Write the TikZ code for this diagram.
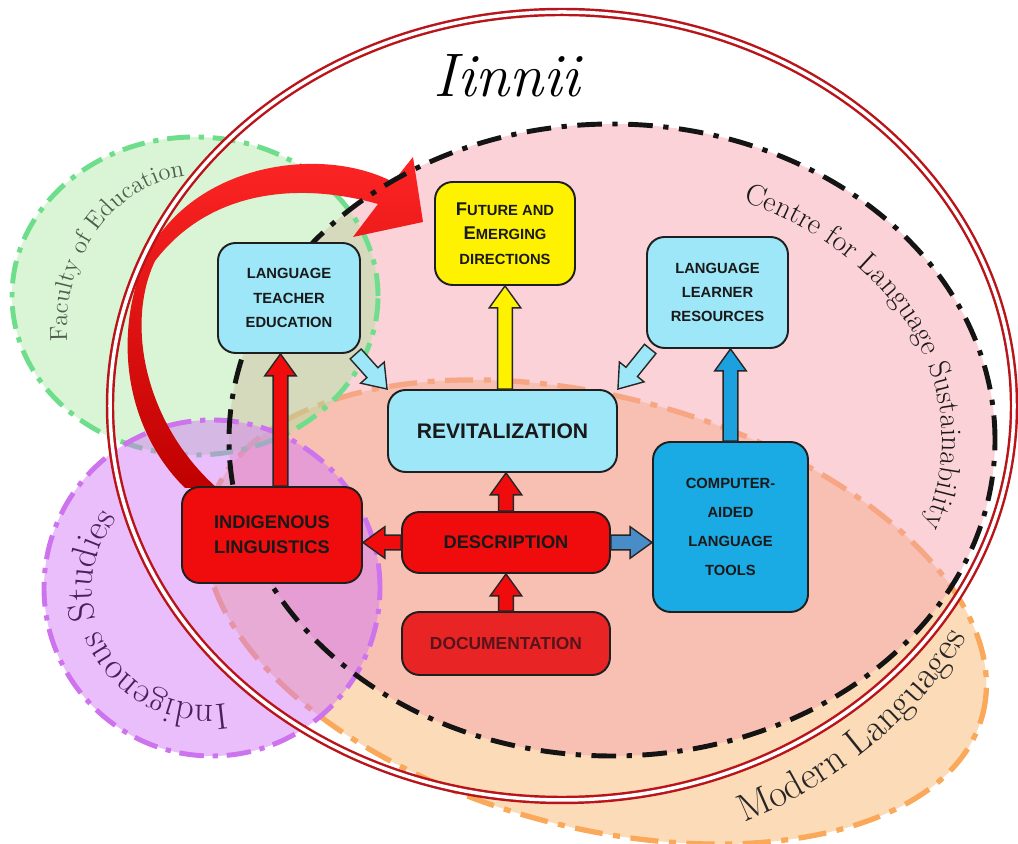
\documentclass[tikz,border=0pt]{standalone}
\usepackage{fontspec}
\usepackage{tikz}
\usetikzlibrary{calc,decorations.text}
\newfontfamily\boxfont{Liberation Sans}

\definecolor{ltblue}{RGB}{158,231,249}
\definecolor{boxyellow}{RGB}{255,242,0}
\definecolor{boxred}{RGB}{240,12,12}
\definecolor{docred}{RGB}{232,36,36}
\definecolor{doctext}{RGB}{88,20,28}
\definecolor{calblue}{RGB}{26,170,228}
\definecolor{steelarrow}{RGB}{72,140,200}
\definecolor{upblue}{RGB}{28,160,222}
\definecolor{ringred}{RGB}{185,20,26}
\definecolor{edgreen}{RGB}{160,230,150}
\definecolor{edgreenline}{RGB}{110,222,140}
\definecolor{fedtext}{RGB}{78,94,78}
\definecolor{indpurple}{RGB}{211,125,245}
\definecolor{indpurpleline}{RGB}{205,115,238}
\definecolor{indtext}{RGB}{72,32,92}
\definecolor{modorange}{RGB}{249,189,125}
\definecolor{modorangeline}{RGB}{250,168,90}
\definecolor{clspink}{RGB}{245,165,175}
\definecolor{arrowred}{RGB}{255,38,38}
\definecolor{arrowdark}{RGB}{192,0,0}

% 粗箭头: 样式, 起点, 终点
\newcommand\blockarr[3]{%
  \coordinate (ba-a) at (#2);
  \coordinate (ba-b) at (#3);
  \coordinate (ba-h) at ($(ba-b)!12.5pt!(ba-a)$);
  \draw[fatarr,#1] ($(ba-a)!4.2pt!90:(ba-b)$) -- ($(ba-h)!4.2pt!-90:(ba-a)$)
    -- ($(ba-h)!9pt!-90:(ba-a)$) -- (ba-b) -- ($(ba-h)!9pt!90:(ba-a)$)
    -- ($(ba-h)!4.2pt!90:(ba-a)$) -- ($(ba-a)!4.2pt!-90:(ba-b)$) -- cycle;
}
\newcommand\capfirst[1]{{\fontsize{10.5}{14}\selectfont #1}}

\begin{document}
\begin{tikzpicture}[x=0.02cm,y=0.02cm,
    box/.style={draw=black!88,line width=1.1pt,rounded corners=10pt,align=center,inner sep=2pt,text=black!90},
    bluebox/.style={box,fill=ltblue},
    redbox/.style={box,fill=boxred},
    fatarr/.style={draw=black!85,line width=0.8pt,line join=miter},
    boxtxt/.style={font=\boxfont\bfseries\fontsize{8.4}{13.8}\selectfont},
    curvtxt/.style={decorate,decoration={text along path,text align=center,text color=#1}}
  ]
  \useasboundingbox (0,0) rectangle (1018,844);

  % 绘制椭圆区域
  \draw[modorangeline,line width=3pt,dash pattern=on 16pt off 6pt on 4pt off 6pt,fill=modorange,fill opacity=.55,rotate around={-15:(596,232)}]
    (596,232) ellipse [x radius=400,y radius=215];
  \fill[clspink,fill opacity=.5] (612,404) ellipse [x radius=383,y radius=316];
  \draw[edgreenline,line width=2.8pt,dash pattern=on 13pt off 5pt on 3pt off 5pt,fill=edgreen,fill opacity=.4]
    (195,548) ellipse [x radius=183,y radius=159];
  \draw[indpurpleline,line width=2.8pt,dash pattern=on 14pt off 5pt on 3pt off 5pt,fill=indpurple,fill opacity=.5]
    (212,256) circle [radius=168];

  % 弧形文字
  \path[curvtxt=fedtext,decoration={text={|\fontsize{14}{15}\selectfont|Faculty of Education}}]
    (200,514) ++(190:133 and 155) arc[start angle=190,end angle=90,x radius=133,y radius=155];
  \path[curvtxt=indtext,decoration={text={|\fontsize{21}{22}\selectfont|Indigenous Studies}}]
    (207,254) ++(-60:115) arc[start angle=-60,end angle=-239,radius=115];

  % 大弯箭头
  \shade[top color=arrowred,bottom color=arrowdark]
    (185,356) .. controls (130,410) and (110,500) .. (145,585)
    .. controls (190,680) and (320,700) .. (393,662)
    -- (413,687) -- (423,622) -- (353,607) -- (378,640)
    .. controls (300,662) and (210,655) .. (155,583)
    .. controls (125,520) and (145,420) .. (217,356) -- cycle;

  % 边框
  \draw[black!92,line width=2.8pt,dash pattern=on 14pt off 6pt on 3pt off 6pt]
    (612,404) ellipse [x radius=383,y radius=316];
  \draw[ringred,line width=1.4pt,double=white,double distance=2pt]
    (562,438) ellipse [x radius=452,y radius=394];

  \path[curvtxt=black!90,decoration={text={|\fontsize{17}{18}\selectfont|Centre for Language Sustainability}}]
    (612,404) ++(80:330 and 260) arc[start angle=80,end angle=-35,x radius=330,y radius=260];
  \path[curvtxt=black!85,decoration={text={|\fontsize{22}{23}\selectfont|Modern Languages}}]
    (562,438) ++(-78:472 and 451) arc[start angle=-78,end angle=-20,x radius=472,y radius=451];

  \node[font=\fontsize{35}{40}\selectfont\itshape] (title) at (507,768) {Iinnii};

  % 方框
  \node[bluebox,boxtxt,minimum width=2.84cm,minimum height=2.2cm] (lte) at (289,546) {LANGUAGE\\TEACHER\\EDUCATION};
  \node[box,fill=boxyellow,boxtxt,minimum width=2.8cm,minimum height=2.06cm] (fed) at (505,610.5)
    {\capfirst{F}UTURE AND\\\capfirst{E}MERGING\\DIRECTIONS};
  \node[bluebox,boxtxt,minimum width=2.82cm,minimum height=2.22cm] (llr) at (717.5,551.5) {LANGUAGE\\LEARNER\\RESOURCES};
  \node[bluebox,font=\boxfont\bfseries\fontsize{12}{14}\selectfont,minimum width=4.58cm,minimum height=1.64cm] (rev) at (502.5,413) {REVITALIZATION};
  \node[redbox,font=\boxfont\bfseries\fontsize{10.4}{14}\selectfont,minimum width=4.16cm,minimum height=1.22cm] (des) at (506,301.5) {DESCRIPTION};
  \node[box,fill=docred,text=doctext,font=\boxfont\bfseries\fontsize{9.9}{14}\selectfont,minimum width=4.16cm,minimum height=1.26cm] (doc) at (506,200.5) {DOCUMENTATION};
  \node[redbox,font=\boxfont\bfseries\fontsize{10.4}{14.2}\selectfont,minimum width=3.6cm,minimum height=1.92cm] (il) at (272,309) {INDIGENOUS\\LINGUISTICS};
  \node[box,fill=calblue,font=\boxfont\bfseries\fontsize{8.4}{16.4}\selectfont,minimum width=3.1cm,minimum height=3.4cm] (calt) at (730.5,317)
    {COMPUTER-\\AIDED\\LANGUAGE\\TOOLS};

  % 箭头
  \blockarr{fill=boxred}{$(il.north)!.5!(il.north -| lte.south)$}{$(lte.south)!.5!(lte.south -| il.north)$}
  \blockarr{fill=boxred}{des.north}{rev.south -| des.north}
  \blockarr{fill=boxred}{doc.north}{des.south}
  \blockarr{fill=boxred}{des.west}{il.east |- des.west}
  \blockarr{fill=steelarrow}{des.east}{calt.west |- des.east}
  \blockarr{fill=boxyellow}{rev.north -| fed.south}{fed.south}
  \blockarr{fill=upblue}{calt.north}{llr.south -| calt.north}
  \blockarr{fill=ltblue}{lte.-40}{rev.north west}
  \blockarr{fill=ltblue}{llr.-140}{rev.north east}
\end{tikzpicture}
\end{document}
